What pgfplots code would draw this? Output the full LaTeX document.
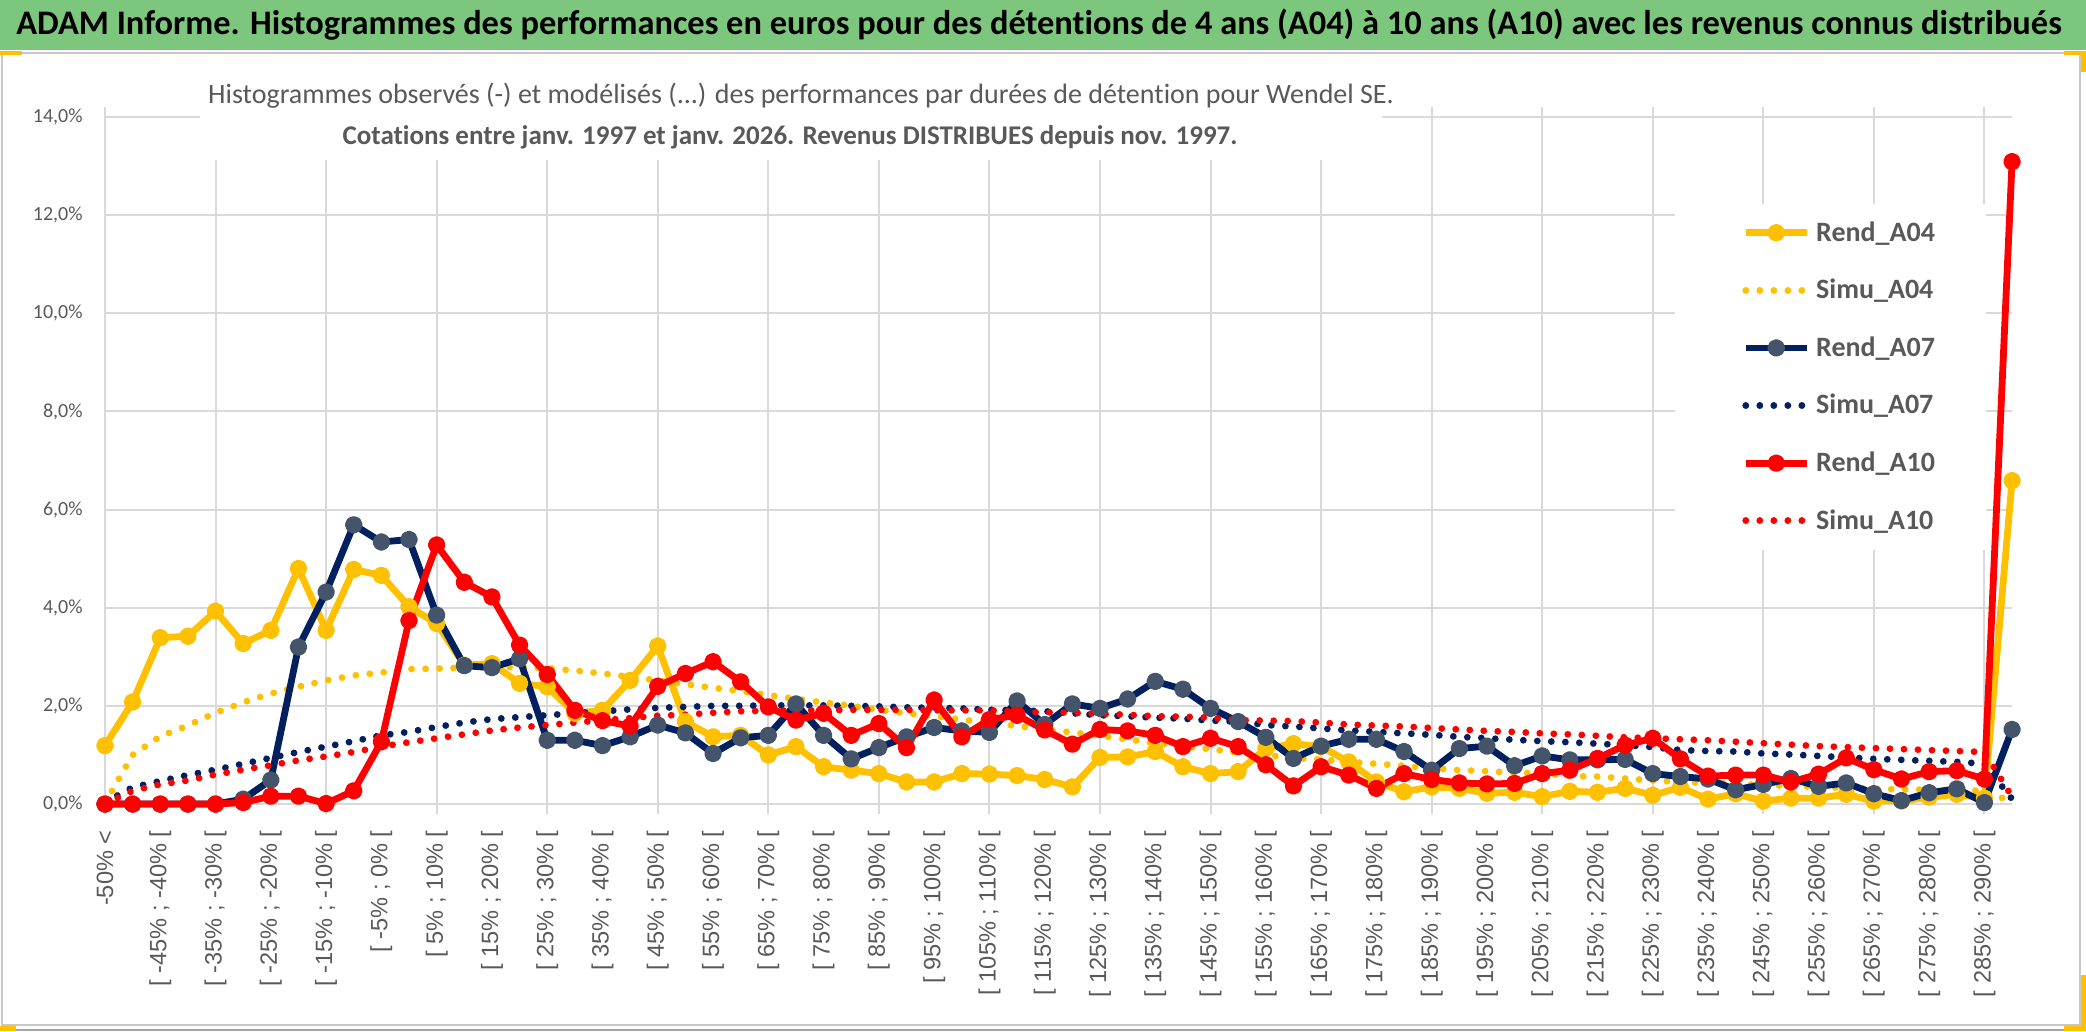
\documentclass[border=0pt]{standalone}
\usepackage{fontspec}
\setmainfont{Carlito}[Ligatures=NoCommon]
\newfontfamily\labelfont{Liberation Sans}
\usepackage{pgfplots}
\usepackage{pgfplotstable}
\pgfplotsset{compat=1.18}

\definecolor{gold}{HTML}{FFC000}
\definecolor{navy}{HTML}{002060}
\definecolor{navymark}{HTML}{44546A}
\definecolor{redx}{HTML}{FF0000}
\definecolor{gridgray}{HTML}{D9D9D9}
\definecolor{textgray}{HTML}{595959}
\definecolor{titlegreen}{HTML}{7DC67D}
\definecolor{framegray}{HTML}{C8C8C8}

% idx = category index, -50% < is 0, [ -50% ; -45% [ is 1, ...
\pgfplotstableread{
idx R04  S04  R07  S07  R10   S10
0   1.19 0.02 0.00 0.04 0.00  0.01
1   2.08 1.00 0.00 0.34 0.00  0.27
2   3.39 1.38 0.00 0.47 0.00  0.40
3   3.42 1.60 0.00 0.59 0.00  0.48
4   3.93 1.86 0.00 0.70 0.00  0.60
5   3.27 2.07 0.10 0.82 0.03  0.70
6   3.54 2.25 0.49 0.94 0.16  0.79
7   4.80 2.39 3.20 1.06 0.16  0.89
8   3.54 2.52 4.32 1.17 0.01  0.97
9   4.78 2.62 5.69 1.28 0.27  1.06
10  4.66 2.68 5.34 1.40 1.27  1.17
11  4.02 2.75 5.39 1.47 3.74  1.26
12  3.68 2.76 3.85 1.57 5.28  1.34
13  2.83 2.78 2.82 1.66 4.52  1.42
14  2.86 2.79 2.78 1.73 4.22  1.50
15  2.46 2.79 2.96 1.77 3.24  1.56
16  2.39 2.77 1.30 1.81 2.64  1.61
17  1.85 2.72 1.30 1.85 1.91  1.66
18  1.91 2.66 1.19 1.89 1.70  1.71
19  2.52 2.59 1.37 1.93 1.59  1.75
20  3.22 2.52 1.61 1.96 2.40  1.80
21  1.68 2.44 1.45 1.98 2.66  1.82
22  1.37 2.37 1.03 2.00 2.90  1.86
23  1.40 2.30 1.35 2.00 2.49  1.89
24  1.00 2.22 1.40 2.01 1.98  1.90
25  1.17 2.14 2.04 2.01 1.71  1.91
26  0.76 2.07 1.40 2.01 1.85  1.91
27  0.69 2.00 0.92 2.00 1.40  1.92
28  0.62 1.92 1.15 1.99 1.64  1.92
29  0.45 1.85 1.37 1.97 1.15  1.92
30  0.45 1.79 1.56 1.96 2.12  1.91
31  0.62 1.72 1.49 1.95 1.37  1.91
32  0.61 1.66 1.46 1.92 1.72  1.91
33  0.58 1.59 2.10 1.91 1.81  1.88
34  0.50 1.52 1.62 1.89 1.51  1.87
35  0.35 1.46 2.04 1.85 1.22  1.86
36  0.95 1.39 1.95 1.81 1.52  1.84
37  0.96 1.32 2.14 1.79 1.49  1.82
38  1.07 1.24 2.50 1.76 1.40  1.79
39  0.76 1.17 2.34 1.74 1.17  1.78
40  0.62 1.12 1.95 1.70 1.34  1.76
41  0.66 1.05 1.68 1.68 1.17  1.71
42  1.13 1.00 1.36 1.61 0.80  1.70
43  1.23 0.94 0.93 1.58 0.37  1.69
44  1.17 0.91 1.18 1.54 0.76  1.66
45  0.86 0.86 1.32 1.50 0.59  1.62
46  0.45 0.82 1.32 1.47 0.32  1.60
47  0.25 0.78 1.07 1.44 0.62  1.58
48  0.35 0.73 0.69 1.41 0.50  1.55
49  0.32 0.69 1.13 1.37 0.43  1.52
50  0.22 0.67 1.18 1.34 0.41  1.49
51  0.24 0.64 0.78 1.31 0.42  1.47
52  0.15 0.62 0.98 1.28 0.62  1.44
53  0.26 0.57 0.90 1.26 0.69  1.42
54  0.24 0.56 0.90 1.23 0.93  1.39
55  0.32 0.52 0.91 1.20 1.20  1.36
56  0.18 0.48 0.62 1.16 1.34  1.34
57  0.34 0.45 0.56 1.10 0.92  1.32
58  0.10 0.43 0.51 1.08 0.57  1.30
59  0.21 0.41 0.29 1.07 0.59  1.27
60  0.06 0.39 0.40 1.03 0.59  1.24
61  0.12 0.37 0.52 1.01 0.45  1.21
62  0.12 0.35 0.36 0.98 0.61  1.18
63  0.20 0.33 0.43 0.95 0.94  1.16
64  0.06 0.31 0.21 0.92 0.70  1.14
65  0.06 0.30 0.07 0.90 0.51  1.12
66  0.14 0.29 0.23 0.88 0.66  1.10
67  0.20 0.28 0.31 0.86 0.68  1.08
68  0.12 0.27 0.03 0.82 0.51  1.06
69  6.59 0.05 1.52 0.10 13.09 0.15
}\histo

\begin{document}
\begin{tikzpicture}
\begin{scope}[x=0.5bp,y=-0.5bp]
\useasboundingbox (0,0) rectangle (2086,1031);
\fill[white] (0,0) rectangle (2086,1031);
\fill[titlegreen] (0,0) rectangle (2086,50);
\node[anchor=west, inner sep=0pt, font=\bfseries\fontsize{17.2bp}{20bp}\selectfont]
  at (16,25) {ADAM Informe. Histogrammes des performances en euros pour des détentions de 4 ans (A04) à 10 ans (A10) avec les revenus connus distribués};
\draw[framegray, line width=1bp] (2,53) rectangle (2080,1025);
\draw[gray!70, line width=1.2bp] (0,1030) -- (2086,1030);
% selection handles of the sheet
\fill[gold] (0,51) rectangle (22,55);
\fill[gold] (2064,51) rectangle (2086,55);
\fill[gold] (2081,51) rectangle (2086,72);
\fill[gold] (2081,975) rectangle (2086,1031);
\fill[gold] (2064,1026) rectangle (2086,1031);
\fill[gold] (0,1026) rectangle (16,1031);
\end{scope}

\begin{axis}[
  at={(52.5bp,-402bp)}, anchor=south west,
  scale only axis,
  width=953.5bp, height=343.5bp,
  xmin=0, xmax=69, ymin=0, ymax=14,
  clip=false,
  axis line style={draw=none},
  ytick={0,2,...,14},
  yticklabels={{0,0\%},{2,0\%},{4,0\%},{6,0\%},{8,0\%},{10,0\%},{12,0\%},{14,0\%}},
  ytick style={draw=none},
  yticklabel style={font=\fontsize{10bp}{12bp}\selectfont, text=textgray, inner sep=0pt, anchor=east, xshift=-11bp},
  ymajorgrids,
  major grid style={gridgray, line width=1bp},
  xtick={0,2,...,68},
  xticklabels={{-50\% <},{[ -45\% ; -40\% [},{[ -35\% ; -30\% [},{[ -25\% ; -20\% [},
    {[ -15\% ; -10\% [},{[ -5\% ; 0\% [},{[ 5\% ; 10\% [},{[ 15\% ; 20\% [},
    {[ 25\% ; 30\% [},{[ 35\% ; 40\% [},{[ 45\% ; 50\% [},{[ 55\% ; 60\% [},
    {[ 65\% ; 70\% [},{[ 75\% ; 80\% [},{[ 85\% ; 90\% [},{[ 95\% ; 100\% [},
    {[ 105\% ; 110\% [},{[ 115\% ; 120\% [},{[ 125\% ; 130\% [},{[ 135\% ; 140\% [},
    {[ 145\% ; 150\% [},{[ 155\% ; 160\% [},{[ 165\% ; 170\% [},{[ 175\% ; 180\% [},
    {[ 185\% ; 190\% [},{[ 195\% ; 200\% [},{[ 205\% ; 210\% [},{[ 215\% ; 220\% [},
    {[ 225\% ; 230\% [},{[ 235\% ; 240\% [},{[ 245\% ; 250\% [},{[ 255\% ; 260\% [},
    {[ 265\% ; 270\% [},{[ 275\% ; 280\% [},{[ 285\% ; 290\% [}},
  xtick style={draw=none},
  xticklabel style={font=\labelfont\fontsize{11.8bp}{14bp}\selectfont, text=textgray,
    rotate=90, anchor=east, inner sep=0pt, xshift=-13bp},
  extra x ticks={0,4,...,68},
  extra x tick labels={},
  extra x tick style={xmajorgrids=true, tick align=outside, major tick length=5bp,
    xtick style={draw=gridgray, line width=1bp}},
  legend style={at={(axis description cs:0.8243,0.8748)}, anchor=north west,
    draw=none, fill=none, inner xsep=32.5bp, inner ysep=7bp,
    row sep=13.5bp, column sep=0bp, nodes={inner xsep=3bp},
    font=\bfseries\fontsize{14bp}{16bp}\selectfont, text=textgray},
  legend cell align=left,
  legend image code/.code={\draw[mark repeat=2,mark phase=2,#1]
    plot coordinates {(0bp,0bp) (15.25bp,0bp) (30.5bp,0bp)};},
  every axis plot/.append style={line join=round},
  rend/.style={line width=3.4bp, mark=*, mark size=2.7bp},
  simu/.style={line width=3.4bp, line cap=round, dash pattern=on 0.01bp off 7bp},
]
% white legend box: over the grid, under the series
\fill[white] (axis cs:56.8,5.17) rectangle (axis cs:68.05,12.23);
\addplot[rend, gold, mark options={solid, fill=gold, draw=gold}] table[x=idx, y=R04] {\histo};
\addlegendentry{Rend\_A04}
\addplot[simu, gold] table[x=idx, y=S04] {\histo};
\addlegendentry{Simu\_A04}
\addplot[rend, navy, mark options={solid, fill=navymark, draw=navymark}] table[x=idx, y=R07] {\histo};
\addlegendentry{Rend\_A07}
\addplot[simu, navy] table[x=idx, y=S07] {\histo};
\addlegendentry{Simu\_A07}
\addplot[rend, redx, mark options={solid, fill=redx, draw=redx}] table[x=idx, y=R10] {\histo};
\addlegendentry{Rend\_A10}
\addplot[simu, redx] table[x=idx, y=S10] {\histo};
\addlegendentry{Simu\_A10}
\end{axis}

\begin{scope}[x=0.5bp,y=-0.5bp]
\fill[white] (200,62) rectangle (1382,160);
\node[textgray, inner sep=0pt, font=\fontsize{14bp}{16bp}\selectfont] at (801,96)
  {Histogrammes observés (-) et modélisés (...) des performances par durées de détention pour Wendel SE.};
\node[textgray, inner sep=0pt, font=\bfseries\fontsize{13.5bp}{16bp}\selectfont] at (790,137)
  {Cotations entre janv. 1997 et janv. 2026. Revenus DISTRIBUES depuis nov. 1997.};
\end{scope}
\end{tikzpicture}
\end{document}
